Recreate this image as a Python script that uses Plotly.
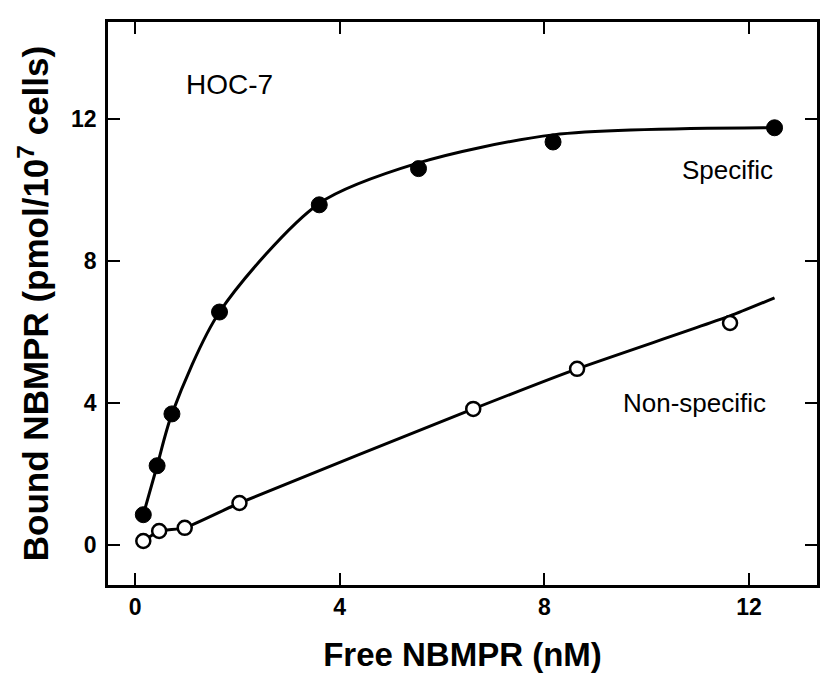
import plotly.graph_objects as go

# Specific binding (filled circles)
spec_x = [0.16, 0.43, 0.72, 1.65, 3.60, 5.54, 8.17, 12.50]
spec_y = [0.85, 2.23, 3.69, 6.56, 9.58, 10.60, 11.35, 11.75]
# Drawn curve through specific points
spec_line_x = [0.16, 0.43, 0.72, 1.65, 3.60, 5.54, 8.17, 12.50]
spec_line_y = [0.85, 2.23, 3.69, 6.56, 9.62, 10.76, 11.55, 11.75]

# Non-specific binding (open circles)
nons_x = [0.16, 0.47, 0.97, 2.04, 6.61, 8.64, 11.63]
nons_y = [0.11, 0.39, 0.48, 1.18, 3.83, 4.96, 6.25]
# Drawn line through non-specific points
nons_line_x = [0.16, 0.47, 0.97, 2.04, 6.61, 8.64, 11.63, 12.50]
nons_line_y = [0.11, 0.39, 0.48, 1.18, 3.83, 4.96, 6.45, 6.96]

tick_vals = [0, 4, 8, 12]
tick_text = ["0", "4", "8", "12"]

FONT = "Liberation Sans, Arial, sans-serif"

fig = go.Figure()
fig.add_trace(go.Scatter(x=spec_line_x, y=spec_line_y, mode="lines",
                         line=dict(color="black", width=3, shape="spline", smoothing=0.8),
                         showlegend=False, hoverinfo="skip"))
fig.add_trace(go.Scatter(x=nons_line_x, y=nons_line_y, mode="lines",
                         line=dict(color="black", width=3, shape="spline", smoothing=0.5),
                         showlegend=False, hoverinfo="skip"))
fig.add_trace(go.Scatter(x=spec_x, y=spec_y, mode="markers",
                         marker=dict(symbol="circle", size=16, color="black",
                                     line=dict(color="black", width=1)),
                         showlegend=False))
fig.add_trace(go.Scatter(x=nons_x, y=nons_y, mode="markers",
                         marker=dict(symbol="circle", size=14, color="white",
                                     line=dict(color="black", width=2.5)),
                         showlegend=False))

fig.add_annotation(x=1.85, y=12.96, text="HOC-7", showarrow=False,
                   font=dict(family=FONT, size=28, color="black"))
fig.add_annotation(x=11.58, y=10.56, text="Specific", showarrow=False,
                   font=dict(family=FONT, size=26, color="black"))
fig.add_annotation(x=10.93, y=4.0, text="Non-specific", showarrow=False,
                   font=dict(family=FONT, size=26, color="black"))

axis_common = dict(showline=True, linecolor="black", linewidth=2.5, mirror="ticks",
                   ticks="inside", ticklen=12, tickwidth=2, tickcolor="black",
                   showgrid=False, zeroline=False,
                   tickvals=tick_vals, ticktext=tick_text,
                   tickfont=dict(family=FONT, size=23, color="black", weight="bold"))

fig.update_xaxes(range=[-0.53, 13.33],
                 title=dict(text="Free NBMPR (nM)",
                            font=dict(family=FONT, size=33, color="black", weight="bold"),
                            standoff=24),
                 **axis_common)
fig.update_yaxes(range=[-1.13, 14.73],
                 title=dict(text="Bound NBMPR (pmol/10<sup>7</sup> cells)",
                            font=dict(family=FONT, size=35, color="black", weight="bold"),
                            standoff=12),
                 ticklabelstandoff=4,
                 **axis_common)

fig.update_layout(width=827, height=681, margin=dict(l=108, r=7, t=22, b=96),
                  paper_bgcolor="white", plot_bgcolor="white")

fig.write_html("out.html")
